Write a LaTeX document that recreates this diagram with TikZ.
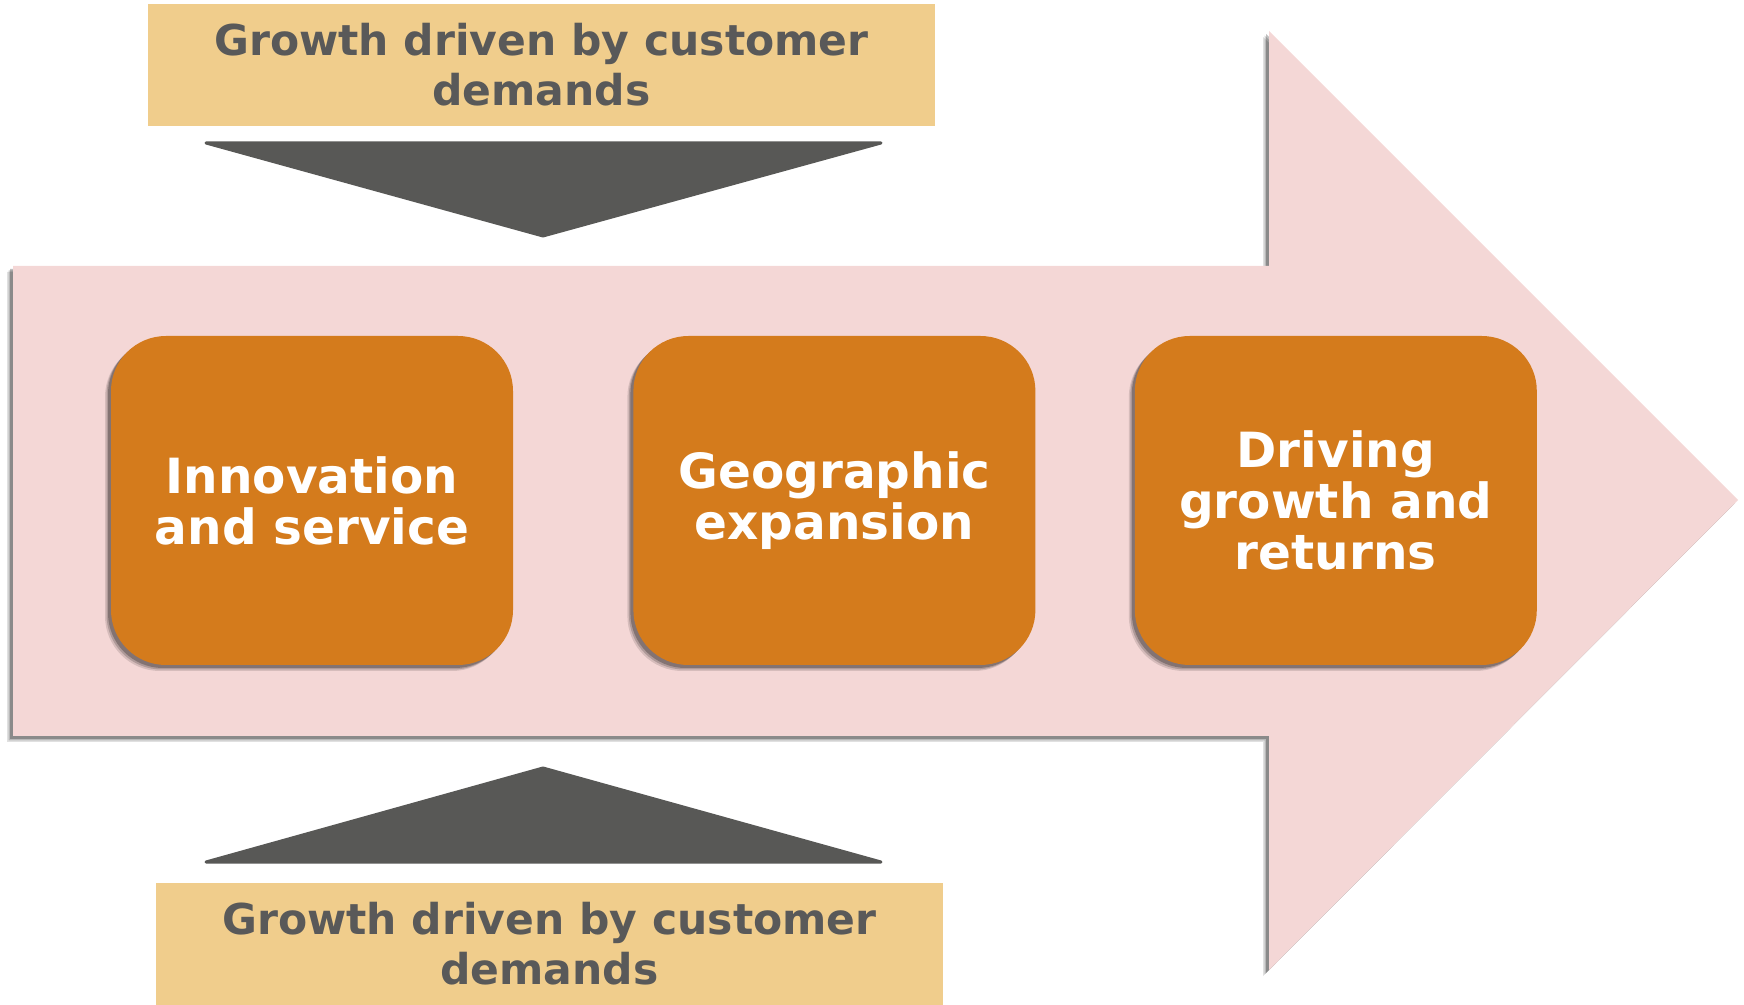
\documentclass[tikz,border=0pt]{standalone}
\usepackage{fontspec}
\setmainfont{DejaVu Sans}
\usetikzlibrary{shadows, positioning}

\definecolor{demandfill}{RGB}{240,205,140}
\definecolor{demandtext}{RGB}{89,89,89}
\definecolor{wedgegray}{RGB}{88,88,86}
\definecolor{arrowpink}{RGB}{244,215,214}
\definecolor{stagefill}{RGB}{212,123,28}

\begin{document}
\begin{tikzpicture}[x=1pt, y=1pt,
    % three stacked shadows give a soft edge
    softshadow/.style={
        drop shadow={shadow xshift=-6pt, shadow yshift=-6pt, opacity=.12, fill=black},
        drop shadow={shadow xshift=-4.5pt, shadow yshift=-4.5pt, opacity=.18, fill=black},
        drop shadow={shadow xshift=-3pt, shadow yshift=-3pt, opacity=.25, fill=black}},
    demandbox/.style={fill=demandfill, text=demandtext, minimum width=787pt, minimum height=122pt,
        align=center, inner sep=0pt, font=\fontsize{42.5}{50}\selectfont\bfseries},
    stagebox/.style={fill=stagefill, text=white, minimum width=402pt, minimum height=329pt,
        rounded corners=55pt, align=center, font=\fontsize{48.5}{51}\selectfont\bfseries,
        softshadow},
    wedge/.style={fill=wedgegray, draw=wedgegray, line width=3pt, line join=round}
]
\useasboundingbox (0,0) rectangle (1744,1004);

% big background arrow
\fill[arrowpink, softshadow]
    (13,268) -- (13,738) -- (1269,738) -- (1269,973) -- (1738,504)
    -- (1269,34) -- (1269,268) -- cycle;

\draw
    node [demandbox] (topdemand) at (541.5,939) {Growth driven by customer\\demands}
    node [demandbox] (botdemand) at (549.5,60.5) {Growth driven by customer\\demands}
    node [stagebox] (innov) at (312,503.5) {Innovation\\and service}
    node [stagebox, right=120pt of innov] (geo) {Geographic\\expansion}
    node [stagebox, right=99pt of geo] (returns) {Driving\\growth and\\returns}
;

% wedges pointing at the arrow
\draw[wedge] (206,861) -- (881,861) -- (543,768) -- cycle;
\draw[wedge] (206,142) -- (881,142) -- (543,236) -- cycle;
\end{tikzpicture}
\end{document}
